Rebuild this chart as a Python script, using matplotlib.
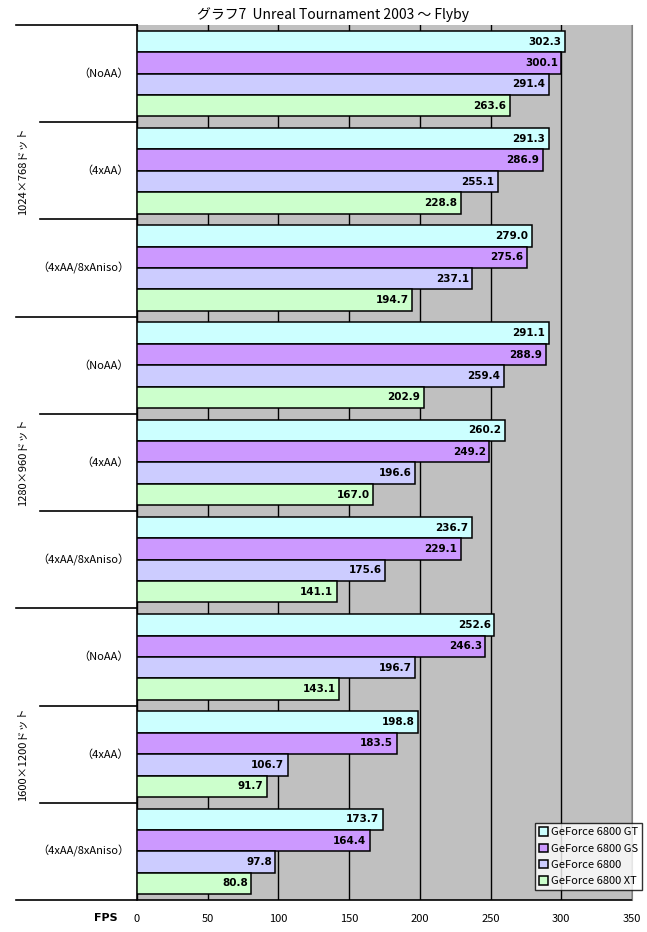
import numpy as np
import matplotlib
matplotlib.use('Agg')
from matplotlib import pyplot as plt
from matplotlib.transforms import blended_transform_factory

plt.rcParams['font.family'] = ['Noto Sans CJK JP', 'DejaVu Sans']

# データ
resolutions = ['1024×768ドット', '1280×960ドット', '1600×1200ドット']
settings = ['（NoAA）', '（4xAA）', '（4xAA/8xAniso）']
series = ['GeForce 6800 GT', 'GeForce 6800 GS', 'GeForce 6800', 'GeForce 6800 XT']
gt = [302.3, 291.3, 279.0, 291.1, 260.2, 236.7, 252.6, 198.8, 173.7]
gs = [300.1, 286.9, 275.6, 288.9, 249.2, 229.1, 246.3, 183.5, 164.4]
plain = [291.4, 255.1, 237.1, 259.4, 196.6, 175.6, 196.7, 106.7, 97.8]
xt = [263.6, 228.8, 194.7, 202.9, 167.0, 141.1, 143.1, 91.7, 80.8]
xticks = [0, 50, 100, 150, 200, 250, 300, 350]

colors = ['#CCFFFF', '#CC99FF', '#CCCCFF', '#CCFFCC']

fig = plt.figure(figsize=(6.47, 9.32), dpi=100)
ax = fig.add_axes([137/647, 1 - 900/932, 495/647, 875/932])
ax.set_facecolor('#C0C0C0')

n = len(gt)
pos = np.arange(n)
h = 0.22
for k, vals in enumerate([gt, gs, plain, xt]):
    y = pos - 1.5*h + k*h
    ax.barh(y, vals, height=h, color=colors[k], edgecolor='black', linewidth=1.1,
            label=series[k], zorder=3)
    for yy, v in zip(y, vals):
        ax.text(v - 2.5, yy, '%.1f' % v, ha='right', va='center',
                fontsize=7.5, fontweight='bold', family='DejaVu Sans', zorder=4)

ax.set_xlim(0, 350)
ax.set_ylim(n - 0.5, -0.5)
ax.set_xticks(xticks)
ax.xaxis.grid(True, color='black', linewidth=1)
ax.set_axisbelow(True)
ax.tick_params(axis='x', length=0, pad=10, labelsize=8)
ax.set_yticks([])
ax.spines['top'].set_visible(False)
ax.spines['right'].set_color('#808080')
ax.spines['left'].set_linewidth(1.2)
ax.spines['bottom'].set_visible(False)

tr = blended_transform_factory(ax.transAxes, ax.transData)
for i in range(n + 1):
    x0 = -0.244 if i % 3 == 0 else -0.196
    x1 = 1.0 if i == n else 0.0
    ax.plot([x0, x1], [i - 0.5, i - 0.5], color='black', lw=1.2,
            transform=tr, clip_on=False)
for i in range(n):
    ax.text(-0.016, i, settings[i % 3], transform=tr, ha='right', va='center', fontsize=8)
for j, r in enumerate(resolutions):
    ax.text(-0.232, 3*j + 1, r, transform=tr, ha='center', va='center',
            rotation=90, fontsize=8)

ax.text(-0.04, -0.021, 'FPS', transform=ax.transAxes, ha='right', va='center',
        fontsize=8, fontweight='bold', family='DejaVu Sans')

fig.text(333/647, 1 - 15/932, 'グラフ7  Unreal Tournament 2003 ～ Flyby',
         ha='center', va='center', fontsize=10)

leg = fig.legend(loc='lower right', bbox_to_anchor=(642/647, 1 - 890/932),
                 fontsize=8, frameon=True, fancybox=False, edgecolor='black',
                 handlelength=0.8, handleheight=0.8, handletextpad=0.3,
                 borderpad=0.35, labelspacing=0.55, borderaxespad=0)
leg.get_frame().set_linewidth(1)

plt.savefig('out.png', dpi=100)
